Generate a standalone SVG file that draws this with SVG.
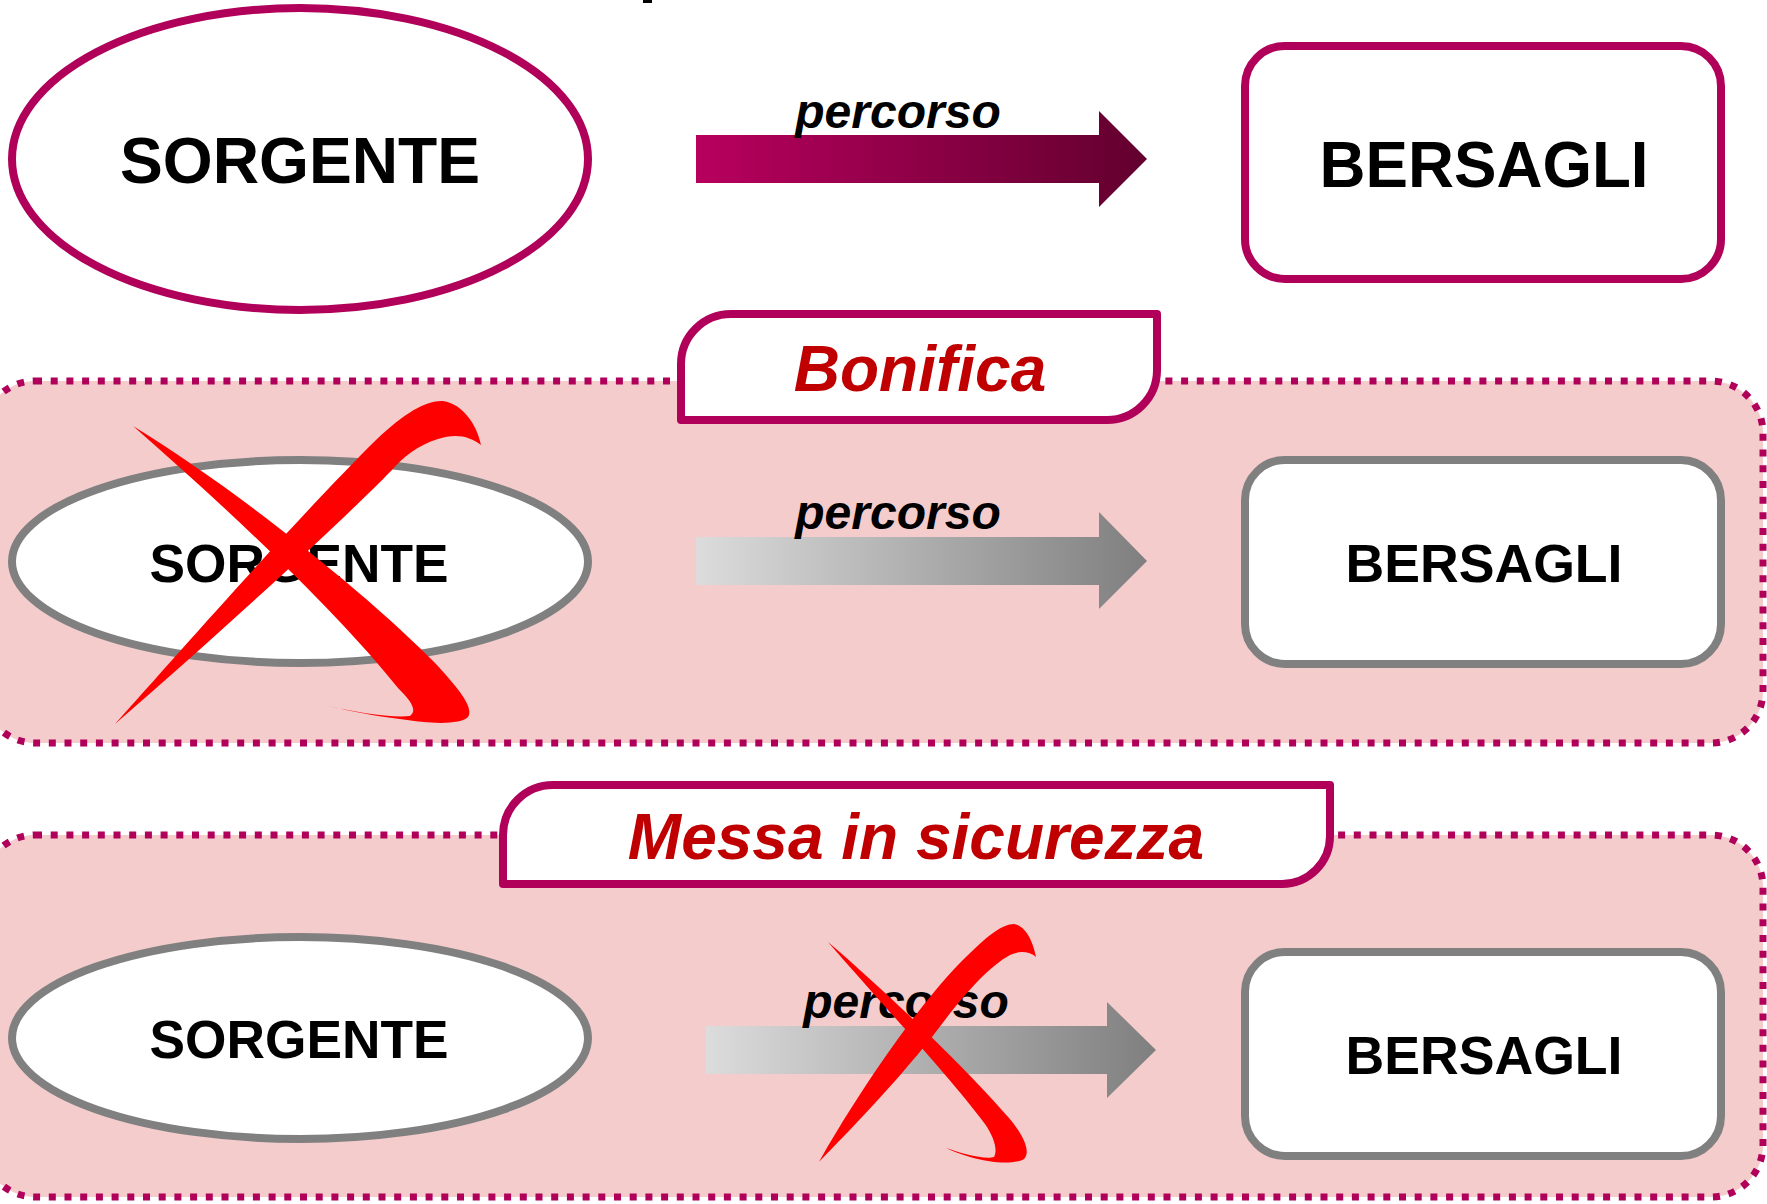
<svg xmlns="http://www.w3.org/2000/svg" width="1767" height="1204" viewBox="0 0 1767 1204">
<defs>
<linearGradient id="gMag" x1="0" y1="0" x2="1" y2="0">
<stop offset="0" stop-color="#B8005E"/>
<stop offset="1" stop-color="#62002E"/>
</linearGradient>
<linearGradient id="gGray" x1="0" y1="0" x2="1" y2="0">
<stop offset="0" stop-color="#DCDCDC"/>
<stop offset="1" stop-color="#7F7F7F"/>
</linearGradient>
<style>
.lbl{font-family:"Liberation Sans",Arial,sans-serif;font-weight:bold;fill:#000;text-anchor:middle}
.it{font-family:"Liberation Sans",Arial,sans-serif;font-weight:bold;font-style:italic;text-anchor:middle}
.magS{fill:#fff;stroke:#B0005A;stroke-width:8}
.grayS{fill:#fff;stroke:#808080;stroke-width:8}
.zone{fill:#F4CCCC;stroke:#B0005A;stroke-width:7;stroke-dasharray:7 8.7}
.tab{fill:#fff;stroke:#B0005A;stroke-width:8;stroke-linejoin:round}
.x{fill:#FF0000}
</style>
</defs>
<rect x="643" y="0" width="9" height="3" fill="#000"/>
<g id="zone-bonifica">
<rect class="zone" x="-17" y="381" width="1780" height="362" rx="52" ry="52"/>
<path class="tab" d="M681,420 L681,364 A50,50 0 0 1 731,314 L1157,314 L1157,370 A50,50 0 0 1 1107,420 Z"/>
<text class="it" x="920" y="391" font-size="64" fill="#C00000">Bonifica</text>
</g>
<g id="zone-messa">
<rect class="zone" x="-17" y="835" width="1780" height="362" rx="52" ry="52"/>
<path class="tab" d="M503,884 L503,835 A50,50 0 0 1 553,785 L1330,785 L1330,836 A48,48 0 0 1 1282,884 Z"/>
<text class="it" x="916" y="859" font-size="64" fill="#C00000">Messa in sicurezza</text>
</g>
<g id="connectors">
<path d="M696,135 L1099,135 L1099,111 L1147,159 L1099,207 L1099,183 L696,183 Z" fill="url(#gMag)"/>
<text class="it" x="898" y="128" font-size="48" fill="#000">percorso</text>
<path d="M696,537 L1099,537 L1099,512 L1147,561 L1099,609 L1099,585 L696,585 Z" fill="url(#gGray)"/>
<text class="it" x="898" y="529" font-size="48" fill="#000">percorso</text>
<path d="M706,1026 L1107,1026 L1107,1002 L1156,1050 L1107,1098 L1107,1074 L706,1074 Z" fill="url(#gGray)"/>
<text class="it" x="906" y="1018" font-size="48" fill="#000">percorso</text>
</g>
<g id="sorgente-1">
<ellipse class="magS" cx="300" cy="159" rx="288" ry="151"/>
<text class="lbl" x="300" y="183" font-size="65" textLength="360" lengthAdjust="spacingAndGlyphs">SORGENTE</text>
</g>
<g id="bersagli-1">
<rect class="magS" x="1245" y="46" width="476" height="233" rx="40" ry="40"/>
<text class="lbl" x="1484" y="187" font-size="64" textLength="329" lengthAdjust="spacingAndGlyphs">BERSAGLI</text>
</g>
<g id="sorgente-2">
<ellipse class="grayS" cx="300" cy="561.5" rx="288" ry="101.5"/>
<text class="lbl" x="299" y="582" font-size="54" textLength="299" lengthAdjust="spacingAndGlyphs">SORGENTE</text>
</g>
<g id="bersagli-2">
<rect class="grayS" x="1245" y="460" width="476" height="204" rx="40" ry="40"/>
<text class="lbl" x="1484" y="582" font-size="54" textLength="277" lengthAdjust="spacingAndGlyphs">BERSAGLI</text>
</g>
<g id="sorgente-3">
<ellipse class="grayS" cx="300" cy="1038" rx="288" ry="101"/>
<text class="lbl" x="299" y="1058" font-size="54" textLength="299" lengthAdjust="spacingAndGlyphs">SORGENTE</text>
</g>
<g id="bersagli-3">
<rect class="grayS" x="1245" y="952" width="476" height="204" rx="40" ry="40"/>
<text class="lbl" x="1484" y="1074" font-size="54" textLength="277" lengthAdjust="spacingAndGlyphs">BERSAGLI</text>
</g>
<g id="cross-sorgente">
<path class="x" d="M133,426 C235,488 370,596 436,664 C460,690 474,708 468,717 C460,725 430,724 400,719 C375,716 350,711 328,706 C355,712 390,718 410,716 C418,710 410,700 398,688 C340,615 235,515 133,426 Z"/>
<path class="x" d="M115,724 C180,652 295,520 376,440 C406,411 428,400 443,401 C463,404 477,425 481,445 C470,436 455,433 438,439 C418,445 402,458 392,470 C335,528 210,642 115,724 Z"/>
</g>
<g id="cross-percorso">
<path class="x" d="M828,942 C882,988 964,1066 1009,1118 C1024,1136 1031,1152 1024,1159 C1014,1165 990,1163 970,1157 C960,1154 952,1151 946,1148 C960,1153 985,1160 994,1157 C998,1150 994,1137 985,1124 C946,1072 878,1000 828,942 Z"/>
<path class="x" d="M819,1162 C848,1110 906,1020 957,966 C983,940 1000,924 1014,924 C1027,926 1034,945 1036,957 C1030,952 1020,950 1010,955 C986,968 958,1002 932,1037 C892,1087 850,1130 819,1162 Z"/>
</g>
</svg>
